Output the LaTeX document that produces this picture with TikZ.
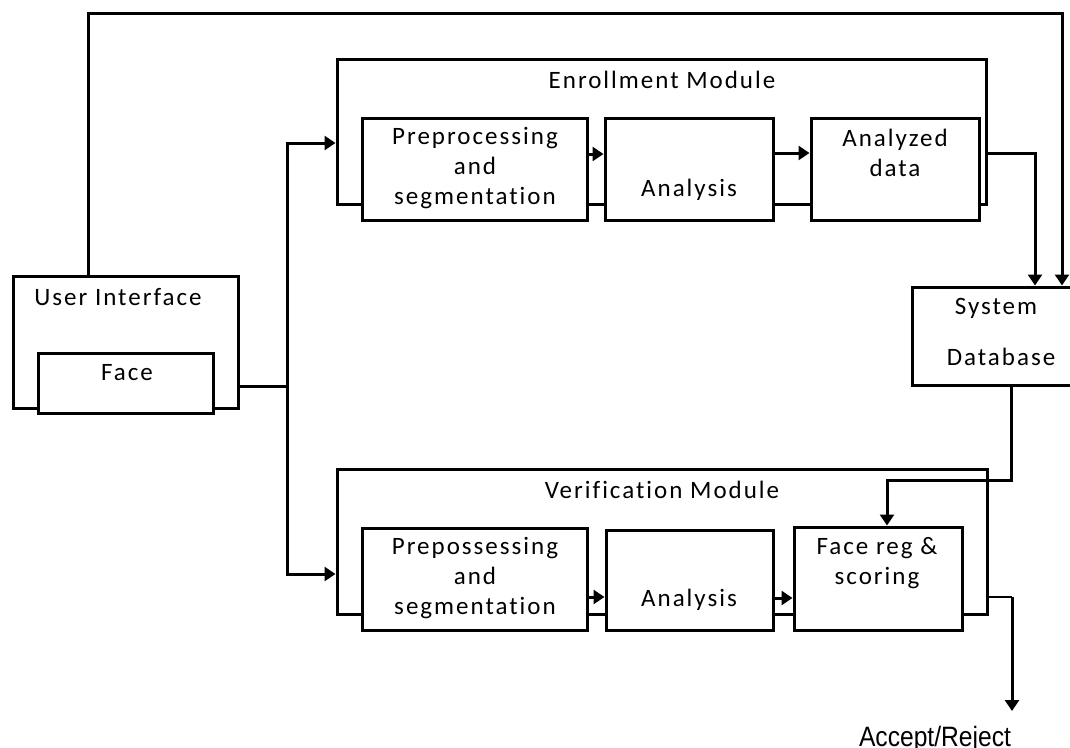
\documentclass[tikz,border=0pt]{standalone}
\usepackage{fontspec}
\setmainfont{Carlito}[LetterSpace=8, Ligatures={NoCommon}]
\newfontfamily\narrowfont[FakeStretch=0.88]{Liberation Sans}
\usetikzlibrary{arrows.meta}
\begin{document}
\begin{tikzpicture}[x=1pt,y=-1pt,
  line width=3pt,
  frame/.style={draw, rectangle, inner sep=0pt, line width=3pt},
  box/.style={draw, fill=white, rectangle, inner sep=0pt, line width=3pt},
  lbl/.style={font=\fontsize{25}{30}\selectfont, align=center, inner sep=0pt},
  flow/.style={-{Triangle[length=11pt,width=14pt]}, line width=3pt},
  wire/.style={line width=3pt},
  thinwire/.style={line width=1.8pt}]
\useasboundingbox (0,0) rectangle (1070,747);

% ---- user interface ----
\node[frame, minimum width=225pt, minimum height=132pt] (ui) at (125.5,342) {};
\node[box, minimum width=175pt, minimum height=60pt] (face) at (125.5,383) {};
\node[lbl] (uit) at (118,297) {User Interface};
\node[lbl] (facet) at (127,373) {Face};

% ---- enrollment module ----
\node[frame, minimum width=649pt, minimum height=145pt] (enroll) at (661.5,131.5) {};
\node[lbl] (enrollt) at (662,80) {Enrollment Module};
\node[box, minimum width=225pt, minimum height=102pt] (epre) at (474.5,169) {};
\node[box, minimum width=168pt, minimum height=102pt] (ean) at (689,169) {};
\node[box, minimum width=168pt, minimum height=102pt] (edata) at (895,169) {};
\node[lbl] (epret) at (475,168) {Preprocessing\\and\\segmentation};
\node[lbl] (eant) at (689,190) {Analysis};
\node[lbl] (edatat) at (895,153) {Analyzed\\data};

% ---- system database ----
\node[box, minimum width=168pt, minimum height=98pt] (db) at (996,336) {};
\node[lbl] (dbt1) at (996,308) {System};
\node[lbl] (dbt2) at (1001,357) {Database};

% ---- verification module ----
\node[frame, minimum width=650pt, minimum height=145pt] (verify) at (662,541.5) {};
\node[lbl] (verifyt) at (662,490) {Verification Module};
\node[box, minimum width=225pt, minimum height=102pt] (vpre) at (474.5,579) {};
\node[box, minimum width=167pt, minimum height=100pt] (van) at (689.5,580) {};
\node[box, minimum width=168pt, minimum height=103pt] (vface) at (878,578.5) {};
\node[lbl] (vpret) at (475,578) {Prepossessing\\and\\segmentation};
\node[lbl] (vant) at (689,600) {Analysis};
\node[lbl] (vfacet) at (877,563) {Face reg \&\\scoring};

% ---- result ----
\node[font=\narrowfont\fontsize{28}{32}\selectfont, anchor=base, inner sep=0pt] (result) at (935,746) {Accept/Reject};

% ---- connectors ----
\coordinate (split) at (287,386);
\coordinate (out) at (1012,597);
\coordinate (outend) at (1012,711);

% feedback from the interface straight to the database
\draw[flow] ([xshift=-37.5pt]ui.north) |- ([xshift=66pt]db.north |- 0,13) -- ([xshift=66pt]db.north);

% interface to both modules
\draw[wire] (ui.east |- split) -- (split);
\draw[flow] (split) |- (enroll.west |- 0,143);
\draw[flow] (split) |- (verify.west |- 0,574);

% enrollment chain
\draw[flow] (epre.east |- 0,154) -- (ean.west |- 0,154);
\draw[flow] (ean.east |- 0,153) -- (edata.west |- 0,153);
\draw[flow] (enroll.east |- 0,153) -| ([xshift=39pt]db.north);

% database to scoring
\draw[flow] ([xshift=15pt]db.south) |- ([xshift=9pt]vface.north |- 0,480) -- ([xshift=9pt]vface.north);

% verification chain
\draw[flow] (vpre.east |- 0,597) -- (van.west |- 0,597);
\draw[flow] (van.east |- 0,598) -- (vface.west |- 0,598);

% decision output
\draw[thinwire] (verify.east |- out) -- (out);
\draw[flow] (out) -- (outend);
\end{tikzpicture}
\end{document}
